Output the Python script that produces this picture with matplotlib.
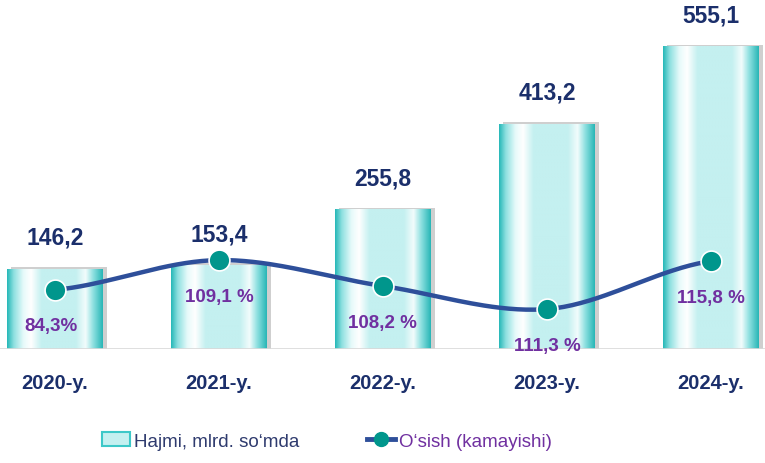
import numpy as np
import matplotlib
matplotlib.use("Agg")
import matplotlib.pyplot as plt
from matplotlib.colors import LinearSegmentedColormap
from matplotlib.patches import Patch, Rectangle
from matplotlib.lines import Line2D

plt.rcParams['font.family'] = ['Liberation Sans', 'DejaVu Sans']

# Data
years = ["2020-y.", "2021-y.", "2022-y.", "2023-y.", "2024-y."]
volume = [146.2, 153.4, 255.8, 413.2, 555.1]
growth_labels = ["84,3%", "109,1 %", "108,2 %", "111,3 %", "115,8 %"]
# line level on the secondary axis, as drawn in the picture
growth_level = [16.9, 25.4, 18.0, 11.4, 25.1]

navy = "#1b2f6b"
purple = "#7030a0"
line_col = "#2e4f9a"
dot_col = "#00968c"

fig = plt.figure(figsize=(7.65, 4.64), dpi=100)
ax = fig.add_axes([0, (464 - 350) / 464, 1, 350 / 464])
x = np.arange(len(years))
w = 0.585

cmap = LinearSegmentedColormap.from_list("bar", [
    (0.0, "#26b8b8"), (0.07, "#8ee0e0"), (0.17, "#e6fafa"), (0.25, "#ffffff"),
    (0.36, "#c4f0f0"), (0.72, "#c4f0f0"), (0.82, "#f2fcfc"), (0.9, "#8ee0e0"),
    (1.0, "#28b6b6")])
grad = np.linspace(0, 1, 256).reshape(1, -1)

for xi, v in zip(x, volume):
    # soft shadow
    ax.add_patch(Rectangle((xi - w / 2 + 0.025, 0), w, v + 4, color="#b0b0b0",
                           alpha=0.6, zorder=1, lw=0))
    ax.imshow(grad, cmap=cmap, aspect="auto", extent=[xi - w / 2, xi + w / 2, 0, v],
              zorder=2, interpolation="bilinear")
    ax.annotate(f"{v:.1f}".replace(".", ","), (xi, v), xytext=(0, 23),
                textcoords="offset points", ha="center", va="center",
                fontsize=16.5, fontweight="bold", color=navy, zorder=5)
    ax.annotate(years[xi], (xi, 0), xytext=(0, -24), textcoords="offset points",
                ha="center", va="center", fontsize=14.5, fontweight="bold",
                color=navy, zorder=5)

ax.axhline(0, color="#d9d9d9", lw=1.2, zorder=3)
ax.set_xlim(-0.335, 4.33)
ax.set_ylim(0, 643)
ax.axis("off")

# secondary axis for the growth line
ax2 = ax.twinx()
ax2.set_ylim(0, 100)
ax2.axis("off")

# smooth curve (Catmull-Rom) through the points
px = x.astype(float)
py = np.array(growth_level)
xs, ys = [], []
for i in range(len(px) - 1):
    p0 = py[max(i - 1, 0)]
    p1, p2 = py[i], py[i + 1]
    p3 = py[min(i + 2, len(py) - 1)]
    t = np.linspace(0, 1, 40)
    seg = 0.5 * ((2 * p1) + (-p0 + p2) * t + (2 * p0 - 5 * p1 + 4 * p2 - p3) * t ** 2
                 + (-p0 + 3 * p1 - 3 * p2 + p3) * t ** 3)
    xs.extend(px[i] + t)
    ys.extend(seg)
ax2.plot(xs, ys, color=line_col, lw=3.2, zorder=6, solid_capstyle="round")
ax2.plot(px, py, "o", color=dot_col, ms=15, mec="white", mew=1.2, zorder=7)

for xi, lv, lab in zip(x, growth_level, growth_labels):
    ax2.annotate(lab, (xi, lv), xytext=(-3 if xi == 0 else 0, -26),
                 textcoords="offset points", ha="center", va="center",
                 fontsize=13.5, fontweight="bold", color=purple, zorder=8)

handles = [
    Patch(facecolor="#c4f0f0", edgecolor="#3cc8c8", lw=1.5),
    Line2D([0], [0], color=line_col, lw=3.5, marker="o", ms=10, mfc=dot_col,
           mec=dot_col),
]
fig.legend(handles, ["Hajmi, mlrd. so\u2018mda", "O\u2018sish (kamayishi)"],
           loc="center", bbox_to_anchor=(327 / 765, 1 - 442 / 464), ncol=2,
           frameon=False, fontsize=13.5, handlelength=1.5, handletextpad=0.2,
           columnspacing=3.6, labelcolor=["#2f3b6e", purple])

fig.savefig("out.png", dpi=100)
